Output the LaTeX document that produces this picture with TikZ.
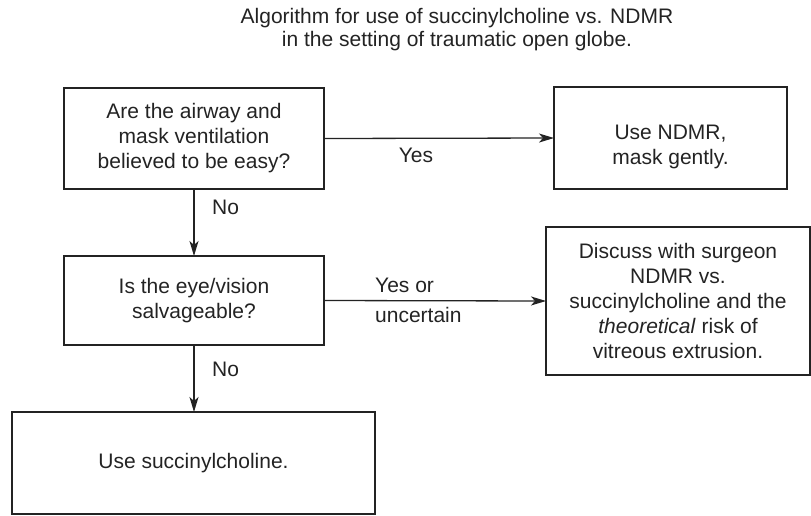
\documentclass[tikz,border=0pt]{standalone}
\usepackage{fontspec}
\setmainfont{Liberation Sans}
\usetikzlibrary{arrows.meta}
\definecolor{ink}{RGB}{35,35,35}
\begin{document}
\begin{tikzpicture}[x=1pt,y=-1pt,
  font=\fontsize{21}{25}\selectfont,
  box/.style={draw=ink, line width=1.3pt, inner sep=0pt, outer sep=0pt, align=center, text=ink},
  txt/.style={inner sep=0pt, text=ink},
  conn/.style={draw=ink, line width=1.3pt, -{Stealth[length=15pt,width=9pt,inset=4pt]}}]
\useasboundingbox (0,0) rectangle (811,515);

\node[txt, align=center, font=\fontsize{21}{23}\selectfont] (title) at (457,30)
  {Algorithm for use of succinylcholine vs. NDMR\\in the setting of traumatic open globe.};

\node[box, minimum width=260pt, minimum height=101pt] (b1) at (194,138.5)
  {Are the airway and\\mask ventilation\\believed to be easy?};
\node[box, minimum width=233pt, minimum height=102pt] (b2) at (670.5,138) {};
\node[txt, align=center] (b2t) at (670.5,147) {Use NDMR,\\mask gently.};
\node[box, minimum width=260pt, minimum height=89pt] (b3) at (194,300.5)
  {Is the eye/vision\\salvageable?};
\node[box, minimum width=264pt, minimum height=148pt] (b4) at (678,301)
  {Discuss with surgeon\\NDMR vs.\\succinylcholine and the\\\textit{theoretical} risk of\\vitreous extrusion.};
\node[box, minimum width=363pt, minimum height=102pt] (b5) at (193.5,463)
  {Use succinylcholine.};

\draw[conn] (b1.east) -- (b2.west);
\draw[conn] (b1.south) -- (b3.north);
\draw[conn] (b3.east) -- (b4.west);
\draw[conn] (b3.south) -- (b3.south |- b5.north);

\node[txt] (yes1) at (416,155) {Yes};
\node[txt, anchor=west] (no1) at (212,207) {No};
\node[txt, anchor=west, align=left] (yes2) at (375,300) {Yes or\\[5pt]uncertain};
\node[txt, anchor=west] (no2) at (212,369) {No};
\end{tikzpicture}
\end{document}
